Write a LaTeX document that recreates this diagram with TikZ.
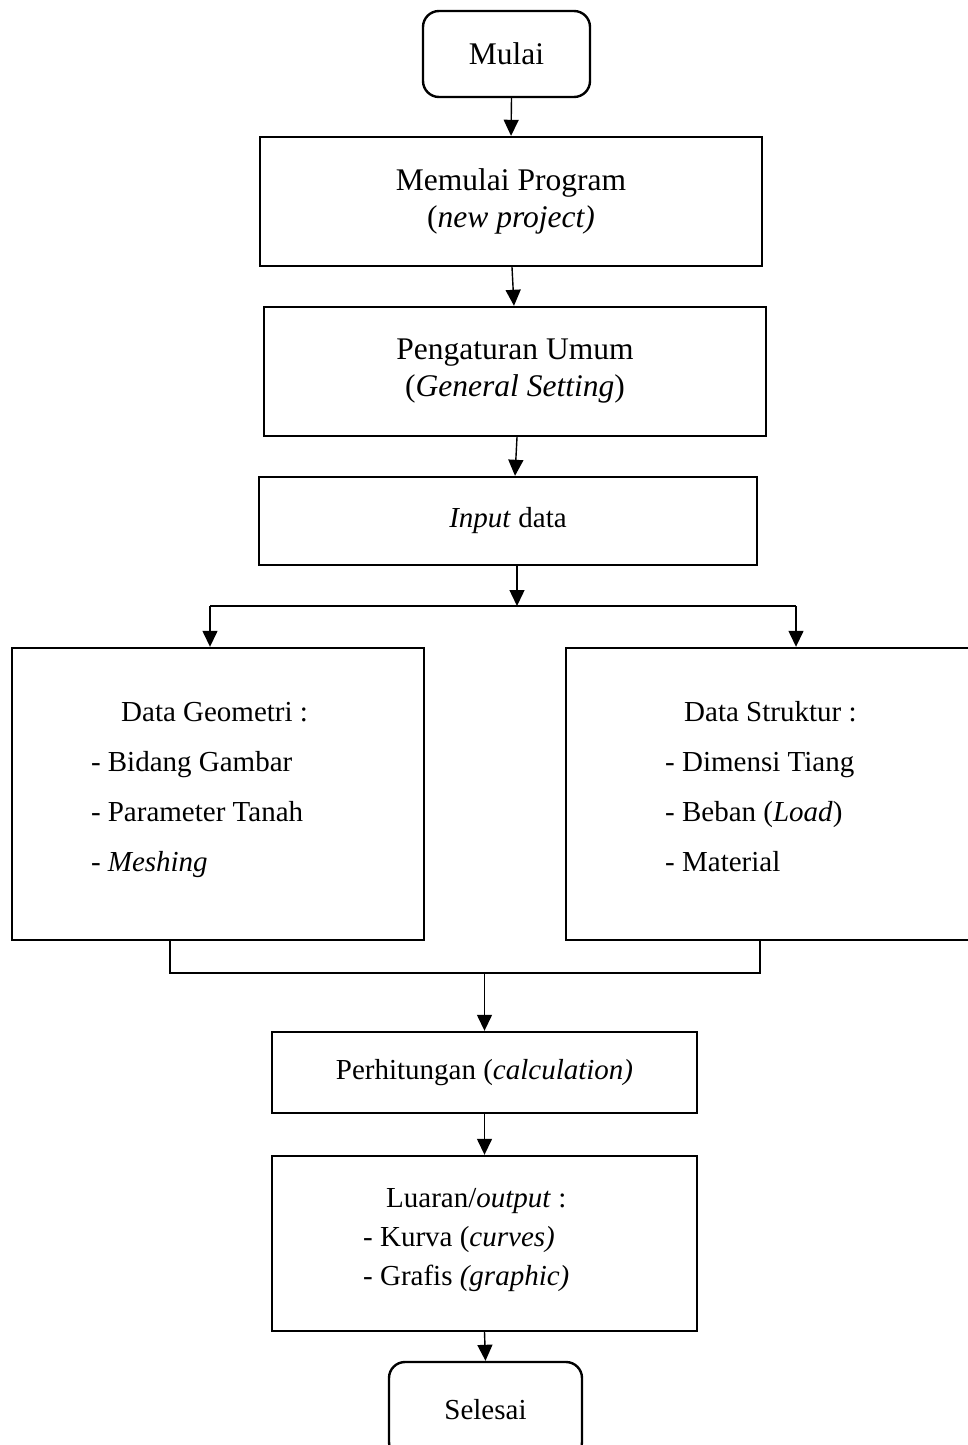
\documentclass[tikz,border=0pt]{standalone}
\usepackage{fontspec}
\setmainfont{Liberation Serif}
\usetikzlibrary{arrows.meta, positioning}
\definecolor{cline}{HTML}{000000}
\tikzset{
  every picture/.style={line width=2.4pt},
  box/.style={draw=cline, rectangle, inner sep=0pt, align=center},
  endbox/.style={box, rounded corners=16pt},
  big/.style={font=\fontsize{31.5}{37}\selectfont},
  norm/.style={font=\fontsize{29}{35}\selectfont},
  listtext/.style={font=\fontsize{29}{35}\selectfont, align=left, inner sep=0pt},
  arrow/.style={-{Triangle[length=16pt, width=15pt]}, draw=cline, line width=1.4pt},
  link/.style={draw=cline, line width=1.8pt},
}

\begin{document}
\begin{tikzpicture}[x=1pt, y=-1pt]
  \useasboundingbox (0,0) rectangle (968,1445);
  % main chain
  \node[endbox, big, minimum width=167pt, minimum height=86pt] (mulai) at (506.5,54) {Mulai};
  \node[box, big, minimum width=502pt, minimum height=129pt] (prog) at (511,201.5) {Memulai Program\\(\textit{new project)}};
  \node[box, big, minimum width=502pt, minimum height=129pt] (umum) at (515,371.5) {Pengaturan Umum\\(\textit{General Setting})};
  \node[box, norm, minimum width=498pt, minimum height=88pt] (input) at (508,521) {\textit{Input} data};
  % the two data boxes
  \node[box, minimum width=412pt, minimum height=292pt] (geo) at (218,794) {};
  \node[box, minimum width=410pt, minimum height=292pt] (str) at (771,794) {};
  \node[listtext, anchor=west] (geotxt) at (90,790) {\hspace*{30pt}Data Geometri :\\[15pt]-\hspace{7pt}Bidang Gambar\\[15pt]-\hspace{7pt}Parameter Tanah\\[15pt]-\hspace{7pt}\textit{Meshing}};
  \node[listtext, anchor=west] (strtxt) at (664,787) {\hspace*{19pt}Data Struktur :\\[15pt]- Dimensi Tiang\\[15pt]- Beban (\textit{Load})\\[15pt]- Material};
  \node[box, norm, minimum width=425pt, minimum height=81pt] (hitung) at (484.5,1072.5) {Perhitungan (\textit{calculation)}};
  \node[box, minimum width=425pt, minimum height=175pt] (luaran) at (484.5,1243.5) {};
  \node[listtext, anchor=west, font=\fontsize{29}{39}\selectfont] (outtxt) at (362,1240) {\hspace*{23pt}Luaran/\textit{output} :\\- Kurva (\textit{curves)}\\- Grafis \textit{(graphic)}};
  \node[endbox, norm, minimum width=193pt, minimum height=96pt] (selesai) at (485.5,1410) {Selesai};

  % branch and merge points
  \coordinate (split) at (517,606);
  \coordinate (splitl) at (210,606);
  \coordinate (splitr) at (796,606);
  \coordinate (joinl) at (170,973);
  \coordinate (joinr) at (760,973);

  \draw[arrow] ([xshift=5pt]mulai.south) -- (prog.north);
  \draw[arrow] ([xshift=1pt]prog.south) -- ([xshift=-1pt]umum.north);
  \draw[arrow] ([xshift=2pt]umum.south) -- (umum.south |- input.north);
  \draw[arrow] (input.south -| split) -- (split);
  \draw[line width=1.4pt] (splitl) -- (splitr);
  \draw[arrow] (splitl) -- (splitl |- geo.north);
  \draw[arrow] (splitr) -- (splitr |- str.north);
  \draw[link] (geo.south -| joinl) -- (joinl) -- (joinr) -- (str.south -| joinr);
  \draw[arrow] (joinl -| hitung.north) -- (hitung.north);
  \foreach \a/\b in {hitung/luaran, luaran/selesai}
    \draw[arrow] (\a.south) -- (\b.north);
\end{tikzpicture}
\end{document}
